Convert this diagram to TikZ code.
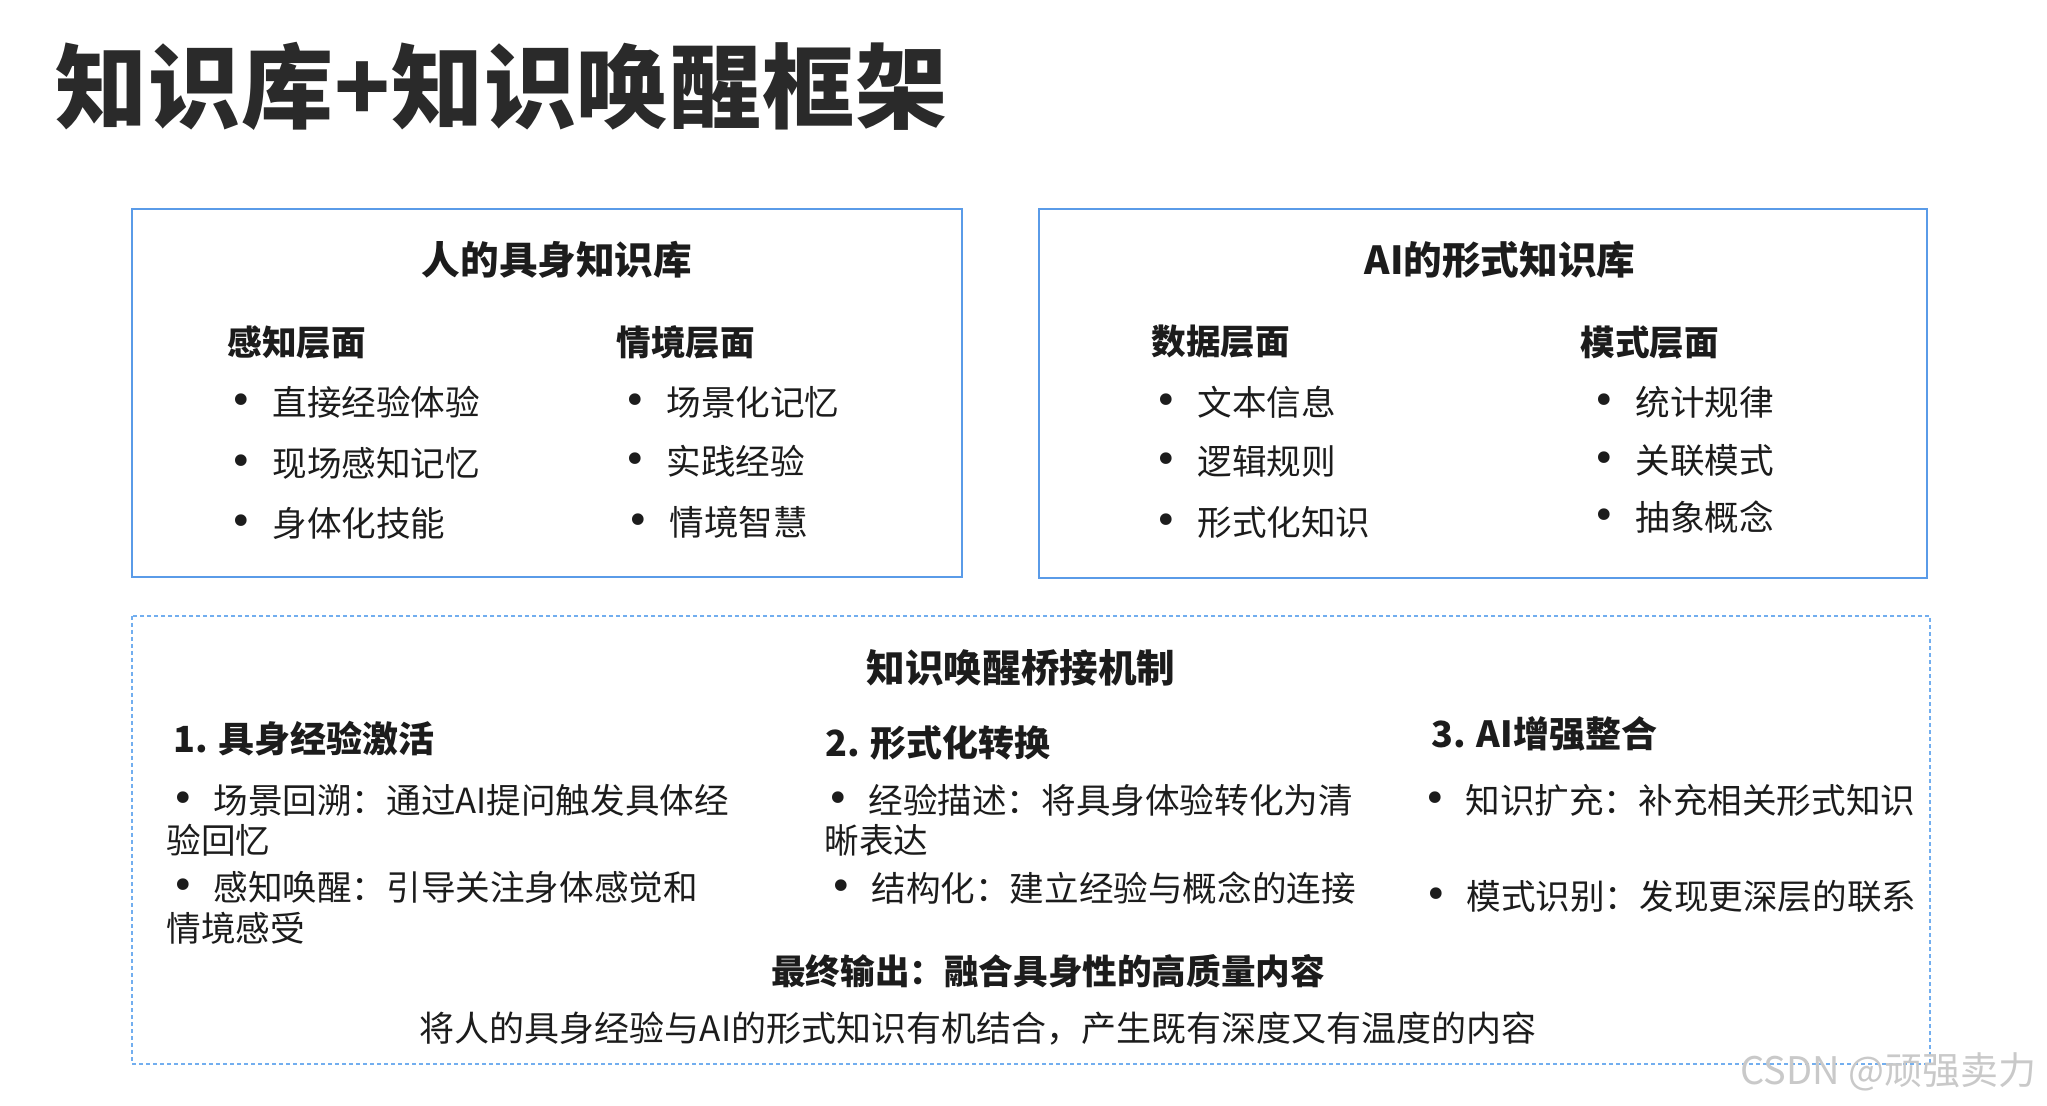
\documentclass[tikz,border=0pt]{standalone}
\usepackage{fontspec}
\setmainfont{Noto Sans CJK SC}
\newfontfamily\bulfont{DejaVu Sans}
\definecolor{boxblue}{HTML}{5A9BE8}
\definecolor{dashblue}{HTML}{72AEEF}
\definecolor{textc}{HTML}{1C1C1C}
\definecolor{titlec}{HTML}{2A2A2A}
\definecolor{wmc}{HTML}{C9C9C9}
\tikzset{
  bluebox/.style={draw=boxblue, line width=1.2pt},
  dashbox/.style={draw=dashblue, line width=0.7pt, dash pattern=on 2pt off 1.5pt},
  txt/.style={inner sep=0pt, anchor=west, text=textc, font=\fontsize{17.3}{21}\selectfont},
  hd/.style={inner sep=0pt, anchor=west, text=textc, font=\fontsize{17.3}{21}\selectfont\bfseries},
  numhd/.style={inner sep=0pt, anchor=west, text=textc, font=\fontsize{18}{22}\selectfont\bfseries},
  boxttl/.style={inner sep=0pt, text=textc, font=\fontsize{19.3}{23}\selectfont\bfseries},
  bul/.style={inner sep=0pt, text=textc, font=\bulfont\fontsize{20}{22}\selectfont, yshift=-1pt},
}
\begin{document}
\begin{tikzpicture}[x=0.5pt,y=-0.5pt]
\useasboundingbox[fill=white] (0,0) rectangle (2047,1106);
% main title
\node[inner sep=0pt, anchor=west, text=titlec, font=\fontsize{46}{52}\selectfont\bfseries\addfontfeature{LetterSpace=1}] (title) at (55,86) {知识库+知识唤醒框架};
% boxes
\draw[bluebox] (132,209) rectangle (962,577);
\draw[bluebox] (1039,209) rectangle (1927,578);
\draw[dashbox] (132,616) rectangle (1930,1064);
% left box
\node[boxttl] (lt) at (557,260) {人的具身知识库};
\node[hd] (lh1) at (227,342) {感知层面};
\node[hd] (lh2) at (616,342) {情境层面};
\node[bul] (lb1) at (241,402) {•}; \node[txt] (li1) at (272,402) {直接经验体验};
\node[bul] (lb2) at (241,463) {•}; \node[txt] (li2) at (272,463) {现场感知记忆};
\node[bul] (lb3) at (241,523) {•}; \node[txt] (li3) at (272,523) {身体化技能};
\node[bul] (lb4) at (635,402) {•}; \node[txt] (li4) at (666,402) {场景化记忆};
\node[bul] (lb5) at (635,461) {•}; \node[txt] (li5) at (666,461) {实践经验};
\node[bul] (lb6) at (638,522) {•}; \node[txt] (li6) at (669,522) {情境智慧};
% right box
\node[boxttl] (rt) at (1500,260) {AI的形式知识库};
\node[hd] (rh1) at (1151,342) {数据层面};
\node[hd] (rh2) at (1580,342) {模式层面};
\node[bul] (rb1) at (1166,402) {•}; \node[txt] (ri1) at (1197,402) {文本信息};
\node[bul] (rb2) at (1166,461) {•}; \node[txt] (ri2) at (1197,461) {逻辑规则};
\node[bul] (rb3) at (1166,522) {•}; \node[txt] (ri3) at (1197,522) {形式化知识};
\node[bul] (rb4) at (1604,402) {•}; \node[txt] (ri4) at (1635,402) {统计规律};
\node[bul] (rb5) at (1604,460) {•}; \node[txt] (ri5) at (1635,460) {关联模式};
\node[bul] (rb6) at (1604,517) {•}; \node[txt] (ri6) at (1635,517) {抽象概念};
% bridge box
\node[boxttl] (bt) at (1021,668) {知识唤醒桥接机制};
\node[numhd] (n1) at (173,739) {1. 具身经验激活};
\node[numhd] (n2) at (825,743) {2. 形式化转换};
\node[numhd] (n3) at (1431,734) {3. AI增强整合};
% column 1
\node[bul] (c1b1) at (183,800) {•}; \node[txt] (c1a) at (213,800) {场景回溯：通过AI提问触发具体经};
\node[txt] (c1a2) at (166,840) {验回忆};
\node[bul] (c1b2) at (183,887) {•}; \node[txt] (c1b) at (213,887) {感知唤醒：引导关注身体感觉和};
\node[txt] (c1b3) at (166,928) {情境感受};
% column 2
\node[bul] (c2b1) at (838,800) {•}; \node[txt] (c2a) at (868,800) {经验描述：将具身体验转化为清};
\node[txt] (c2a2) at (824,840) {晰表达};
\node[bul] (c2b2) at (841,888) {•}; \node[txt] (c2b) at (871,888) {结构化：建立经验与概念的连接};
% column 3
\node[bul] (c3b1) at (1435,800) {•}; \node[txt] (c3a) at (1465,800) {知识扩充：补充相关形式知识};
\node[bul] (c3b2) at (1436,896) {•}; \node[txt] (c3b) at (1466,896) {模式识别：发现更深层的联系};
% output
\node[inner sep=0pt, text=textc, font=\fontsize{17.3}{21}\selectfont\bfseries] (out) at (1048,971) {最终输出：融合具身性的高质量内容};
\node[inner sep=0pt, text=textc, font=\fontsize{17.5}{21}\selectfont] (outd) at (978,1029) {将人的具身经验与AI的形式知识有机结合，产生既有深度又有温度的内容};
% watermark
\node[inner sep=0pt, anchor=west, text=wmc, font=\fontsize{19}{22}\selectfont] (wm) at (1740,1072) {CSDN @顽强卖力};
\end{tikzpicture}
\end{document}
